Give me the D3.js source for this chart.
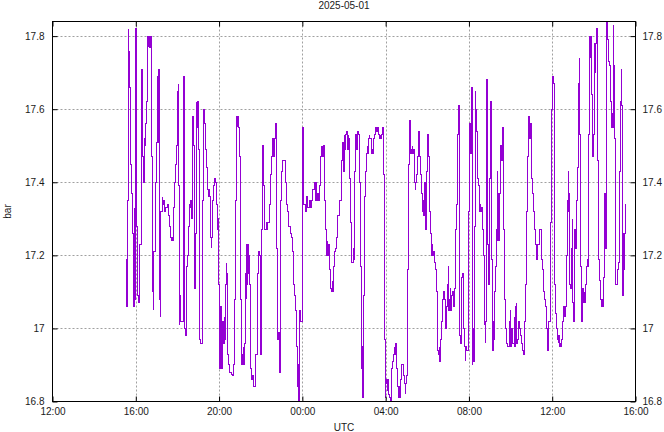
<!DOCTYPE html>
<html><head><meta charset="utf-8">
<script src="https://cdn.jsdelivr.net/npm/d3@7"></script>
<style>
body{margin:0;background:#fff}
text{font-family:"Liberation Sans",Arial,sans-serif;font-size:10px;fill:#1a1a1a}
</style>
</head><body>
<svg id="chart" width="664" height="432"></svg>
<script>
// ---- chart texts ----
const title = "2025-05-01";
const xLabel = "UTC";
const yLabel = "bar";
// x axis: 2025-04-30 12:00 UTC .. 2025-05-01 16:00 UTC, ticks every 4 h
const xStart = "2025-04-30T12:00:00Z";
const xEnd = "2025-05-01T16:00:00Z";
const xTickLabels = ["12:00","16:00","20:00","00:00","04:00","08:00","12:00","16:00"];
const yTicks = [16.8, 17.0, 17.2, 17.4, 17.6, 17.8];
const yDomain = [16.8, 17.84];

// ---- readings: [minutes after 2025-04-30 12:00 UTC, pressure in bar] ----
const evening = [
[212,17.19],[212,17.06],[215,17.35],[218,17.82],[218,17.70],[221,17.76],[221,17.66],[224,17.45],[227,17.37],[230,17.26],
[232,17.06],[235,17.33],[235,17.08],[238,17.82],[241,17.60],[241,17.28],[244,17.09],[247,17.07],[250,17.23],[255,17.71],
[258,17.62],[258,17.47],[261,17.40],[264,17.52],[267,17.50],[267,17.56],[270,17.62],[273,17.80],[276,17.77],[276,17.80],
[278,17.77],[281,17.80],[284,17.47],[287,17.10],[290,17.05],[290,17.21],[296,17.40],[299,17.51],[302,17.69],[302,17.51],
[304,17.71],[307,17.42],[307,17.26],[307,17.08],[310,17.03],[310,17.32],[316,17.36],[316,17.34],[319,17.35],[322,17.32],
[325,17.33],[330,17.34],[333,17.31],[336,17.28],[339,17.25],[342,17.24],[342,17.25],[345,17.24],[348,17.33],[350,17.40]
];
const lateEvening = [
[353,17.45],[356,17.50],[359,17.65],[359,17.50],[362,17.67],[362,17.39],[365,17.09],[365,17.01],[365,17.09],[368,17.02],
[376,17.69],[379,17.37],[379,17.08],[379,17.00],[382,16.98],[385,17.17],[388,17.20],[391,17.28],[394,17.34],[397,17.33],
[397,17.35],[399,17.30],[402,17.58],[405,17.50],[408,17.21],[408,17.11],[411,17.26],[414,17.62],[414,17.55],[417,17.62],
[420,17.49],[422,16.97],[425,16.96],[431,17.35],[434,17.60],[437,17.56],[440,17.49],[443,17.44],[445,17.38],[448,17.36],
[448,17.38],[451,17.36],[454,17.25],[457,17.22],[457,17.25],[460,17.35],[463,17.39],[466,17.41],[469,17.40],[471,17.34],
[474,17.27],[474,17.30],[477,17.12],[480,16.89],[483,17.01],[483,16.98],[483,17.06],[486,16.89],[489,17.02],[492,16.96],
[494,17.03],[494,16.97],[497,17.12],[500,17.18],[500,17.15],[503,16.93],[506,16.90],[509,16.88],[515,16.875],[517,16.87],
[520,16.90],[523,16.93],[523,17.08],[526,17.35],[529,17.58],[532,17.55],[532,17.58],[535,17.55],[538,17.47]
];
const night = [
[541,17.08],[543,16.97],[543,16.90],[546,16.93],[546,16.90],[549,16.95],[549,16.90],[552,16.96],[555,17.15],[558,17.08],
[558,17.23],[561,17.12],[561,17.23],[564,17.15],[564,17.20],[566,17.12],[569,16.89],[572,16.86],[575,16.87],[578,16.84],
[581,16.84],[584,16.93],[589,17.00],[589,17.15],[592,17.21],[595,17.20],[598,16.93],[601,17.27],[604,17.50],[607,17.46],
[607,17.39],[610,17.39],[610,17.27],[615,17.29],[615,17.27],[618,17.29],[624,17.34],[627,17.42],[630,17.44],[630,17.47],
[633,17.52],[633,17.47],[636,17.52],[636,17.47],[638,17.52],[641,17.56],[644,17.34],[644,17.30],[644,17.22],[647,16.97],
[650,16.99],[653,16.88],[656,17.35],[659,17.43],[661,17.46],[667,17.46],[670,17.40],[673,17.34],[676,17.32],[679,17.28],
[685,17.26],[687,17.25],[690,17.21],[693,17.12],[696,17.09],[699,17.05],[702,16.95],[705,16.84],[705,16.90],[708,16.80],
[710,17.05],[713,17.04],[713,17.02],[716,17.02],[719,17.55],[722,17.48],[722,17.36],[722,17.45],[722,17.34],[725,17.34],
[728,17.32],[731,17.36],[733,17.33],[736,17.33],[739,17.35],[742,17.33],[745,17.35],[748,17.38],[754,17.40]
];
const earlyMorning = [
[757,17.35],[757,17.40],[759,17.35],[762,17.37],[765,17.35],[768,17.39],[771,17.47],[774,17.50],[774,17.47],[777,17.50],
[777,17.47],[780,17.50],[782,17.35],[785,17.27],[788,17.20],[791,17.24],[791,17.20],[794,17.23],[797,17.16],[800,17.11],
[803,17.10],[803,17.11],[805,17.13],[805,17.10],[808,17.17],[811,17.21],[814,17.22],[817,17.25],[820,17.31],[826,17.35],
[831,17.46],[834,17.51],[837,17.43],[840,17.53],[840,17.49],[843,17.53],[846,17.54],[849,17.49],[852,17.53],[852,17.52],
[854,17.41],[857,17.29],[860,17.18],[866,17.22],[866,17.19],[869,17.43],[869,17.37],[869,17.43],[872,17.53],[875,17.51],
[875,17.49],[877,17.54],[880,17.53],[883,17.40],[886,17.17],[889,16.95],[889,16.89],[889,16.95],[892,16.81],[895,17.09],
[898,17.36],[901,17.43],[903,17.48],[906,17.50],[906,17.48],[909,17.52],[912,17.53],[912,17.52],[915,17.52],[918,17.48],
[921,17.49],[921,17.48],[924,17.52],[926,17.53],[929,17.55],[932,17.54],[935,17.55],[938,17.53],[941,17.52],[944,17.53],
[944,17.52],[947,17.53],[950,17.55],[952,17.42],[955,16.97],[958,16.87],[958,16.81],[958,16.86],[961,16.85],[964,16.83],
[964,16.86],[967,16.82],[970,16.81],[972,16.80],[975,16.89],[978,16.91],[981,16.93]
];
const morning = [
[984,16.95],[984,16.93],[987,16.96],[990,16.89],[993,16.84],[996,16.81],[996,16.84],[998,16.81],[1001,16.83],[1001,16.86],
[1004,16.90],[1007,16.90],[1010,16.87],[1013,16.85],[1016,16.82],[1016,16.85],[1019,16.87],[1021,17.16],[1024,17.45],[1027,17.57],
[1030,17.51],[1030,17.48],[1033,17.49],[1036,17.50],[1036,17.48],[1039,17.49],[1042,17.40],[1045,17.38],[1045,17.40],[1047,17.42],
[1050,17.47],[1053,17.54],[1053,17.52],[1053,17.54],[1056,17.47],[1059,17.42],[1062,17.37],[1065,17.32],[1065,17.35],[1068,17.31],
[1070,17.40],[1073,17.27],[1076,17.35],[1076,17.43],[1079,17.53],[1082,17.51],[1082,17.47],[1085,17.32],[1088,17.26],[1091,17.20],
[1093,17.23],[1093,17.20],[1096,17.21],[1099,17.18],[1102,17.16],[1105,17.10],[1108,16.94],[1111,16.93],[1114,16.95],[1114,16.91],
[1116,16.97],[1119,17.02],[1122,17.08],[1125,17.10],[1128,17.08],[1131,17.00],[1134,17.06],[1137,17.12],[1140,17.17],[1140,17.05],
[1142,17.08],[1145,17.11],[1145,17.05],[1148,17.09],[1151,17.10],[1154,17.06],[1157,17.11],[1160,17.27],[1163,17.34],[1165,17.53],
[1168,17.61],[1171,16.98],[1174,16.96],[1177,17.14],[1180,17.15],[1183,17.00],[1186,16.95],[1188,16.91],[1188,16.95],[1191,16.94],
[1194,16.94],[1197,17.32],[1200,17.56],[1203,17.48],[1206,17.66],[1209,16.90],[1209,17.00]
];
const forenoon = [
[1211,17.00],[1211,16.91],[1214,17.28],[1217,17.65],[1217,17.54],[1217,17.60],[1220,17.54],[1223,17.41],[1226,17.39],[1229,17.32],
[1232,17.34],[1232,17.32],[1235,17.33],[1237,17.27],[1240,17.20],[1243,17.01],[1246,16.96],[1246,17.02],[1249,17.68],[1252,17.59],
[1252,17.23],[1255,17.12],[1258,17.41],[1260,17.62],[1263,17.19],[1266,16.94],[1269,17.02],[1269,16.97],[1272,17.10],[1275,17.17],
[1278,17.27],[1281,17.43],[1281,17.24],[1284,17.37],[1284,17.24],[1286,17.37],[1289,17.50],[1292,17.46],[1295,17.55],[1298,17.40],
[1298,17.27],[1301,17.08],[1304,17.00],[1307,16.96],[1309,16.95],[1315,17.02],[1318,17.05],[1318,16.95],[1321,17.00],[1324,16.96],
[1330,17.03],[1330,16.95],[1332,17.06],[1335,17.07],[1335,16.96],[1338,16.97],[1341,17.02],[1344,17.00],[1347,16.98],[1350,16.96],
[1353,16.94],[1356,16.93],[1358,17.02],[1361,17.12],[1364,17.32],[1367,17.47],[1370,17.58],[1373,17.56],[1373,17.52],[1376,17.56],
[1379,17.41],[1381,17.37],[1384,17.32],[1387,17.27],[1390,17.23],[1393,17.19],[1396,17.21],[1396,17.23],[1399,17.23],[1402,17.27],
[1407,17.19],[1410,17.16],[1413,17.10],[1416,17.08],[1419,17.06],[1422,17.00],[1425,16.94],[1428,17.02],[1433,17.29],[1436,17.60]
];
const afternoon = [
[1439,17.69],[1439,17.60],[1439,17.69],[1442,17.67],[1445,17.12],[1448,17.04],[1451,17.00],[1453,16.97],[1456,16.96],[1456,16.98],
[1459,16.95],[1462,16.96],[1462,16.95],[1465,16.97],[1468,17.02],[1471,17.06],[1474,17.03],[1474,17.06],[1476,17.03],[1476,17.06],
[1479,17.20],[1482,17.35],[1485,17.43],[1485,17.32],[1488,17.37],[1488,17.12],[1491,17.11],[1494,17.22],[1497,17.30],[1497,17.07],
[1500,17.02],[1502,17.27],[1505,17.22],[1508,17.35],[1511,17.44],[1514,17.67],[1517,17.74],[1517,17.53],[1520,17.17],[1523,17.02],
[1525,17.11],[1528,17.07],[1531,17.10],[1531,17.07],[1534,17.12],[1537,17.17],[1540,17.19],[1540,17.17],[1543,17.53],[1546,17.80],
[1548,17.74],[1548,17.80],[1551,17.64],[1554,17.47],[1557,17.53],[1560,17.78],[1563,17.70],[1563,17.78],[1566,17.82],[1569,17.46],
[1572,17.19],[1574,17.13],[1577,17.08],[1580,17.06],[1580,17.08],[1583,17.06],[1586,17.14],[1589,17.37],[1592,17.22],[1595,17.84],
[1597,17.82],[1597,17.79],[1600,17.73],[1603,17.72],[1606,17.62],[1609,17.55],[1612,17.59],[1612,17.55],[1615,17.83],[1615,17.72],
[1618,17.52],[1620,17.12],[1623,17.12],[1626,17.16],[1629,17.18],[1632,17.43],[1635,17.62],[1638,17.71],[1638,17.61],[1641,17.09],
[1644,17.26],[1646,17.16],[1646,17.26],[1649,17.34]
];

// ---- layout ----
const W = 664, H = 432;
const M = {left: 52.5, right: 635.5, top: 21.5, bottom: 401.5};
const svg = d3.select("#chart");

const t0 = new Date(xStart);
const x = d3.scaleUtc().domain([t0, new Date(xEnd)]).range([M.left, M.right]);
const y = d3.scaleLinear().domain(yDomain).range([M.bottom, M.top]);

const series = [].concat(evening, lateEvening, night, earlyMorning, morning, forenoon, afternoon)
  .map(([m, v]) => ({t: new Date(t0.getTime() + m * 60000), v}));

const xTicks = d3.utcHour.every(4).range(t0, new Date(new Date(xEnd).getTime() + 1));

// grid
const grid = svg.append("g").attr("stroke", "#a0a0a0").attr("stroke-dasharray", "2,2").attr("stroke-width", 1);
grid.selectAll("line.gx").data(xTicks.slice(1, -1)).join("line")
  .attr("x1", d => Math.round(x(d)) + 0.5).attr("x2", d => Math.round(x(d)) + 0.5)
  .attr("y1", M.top).attr("y2", M.bottom);
grid.selectAll("line.gy").data(yTicks.slice(1)).join("line")
  .attr("x1", M.left).attr("x2", M.right)
  .attr("y1", d => Math.round(y(d)) + 0.5).attr("y2", d => Math.round(y(d)) + 0.5);

// data line
svg.append("clipPath").attr("id", "clip").append("rect")
  .attr("x", M.left).attr("y", M.top).attr("width", M.right - M.left).attr("height", M.bottom - M.top);
const line = d3.line().x(d => Math.round(x(d.t)) + 0.5).y(d => y(d.v)).curve(d3.curveStepAfter);
svg.append("path").datum(series)
  .attr("clip-path", "url(#clip)")
  .attr("fill", "none").attr("stroke", "#9400d3").attr("stroke-width", 1)
  .attr("shape-rendering", "crispEdges")
  .attr("d", line);

// axes (ticks inward on all four sides)
const tickLen = 5;
const axB = d3.axisBottom(x).tickValues(xTicks).tickFormat((d, i) => xTickLabels[i]).tickSizeInner(-tickLen).tickSizeOuter(0).tickPadding(6);
const axT = d3.axisTop(x).tickValues(xTicks).tickFormat("").tickSizeInner(-tickLen).tickSizeOuter(0);
const yFmt = d => String(+d.toFixed(1));
const axL = d3.axisLeft(y).tickValues(yTicks).tickFormat(yFmt).tickSizeInner(-tickLen).tickSizeOuter(0).tickPadding(8);
const axR = d3.axisRight(y).tickValues(yTicks).tickFormat(yFmt).tickSizeInner(-tickLen).tickSizeOuter(0).tickPadding(7);

function style(g) {
  g.select(".domain").remove();
  g.selectAll("line").attr("stroke", "#000");
  g.selectAll("text").attr("font-family", null).attr("font-size", null).attr("fill", "#1a1a1a");
}
svg.append("g").attr("transform", `translate(0,${M.bottom})`).call(axB).call(style);
svg.append("g").attr("transform", `translate(0,${M.top})`).call(axT).call(style);
svg.append("g").attr("transform", `translate(${M.left},0)`).call(axL).call(style);
svg.append("g").attr("transform", `translate(${M.right},0)`).call(axR).call(style);

// border
svg.append("rect").attr("x", M.left).attr("y", M.top)
  .attr("width", M.right - M.left).attr("height", M.bottom - M.top)
  .attr("fill", "none").attr("stroke", "#000").attr("stroke-width", 1);

// labels
svg.append("text").attr("x", (M.left + M.right) / 2).attr("y", 9).attr("text-anchor", "middle").text(title);
svg.append("text").attr("x", (M.left + M.right) / 2).attr("y", 431).attr("text-anchor", "middle").text(xLabel);
svg.append("text").attr("transform", `translate(11,${(M.top + M.bottom) / 2}) rotate(-90)`).attr("text-anchor", "middle").text(yLabel);
</script>
</body></html>
